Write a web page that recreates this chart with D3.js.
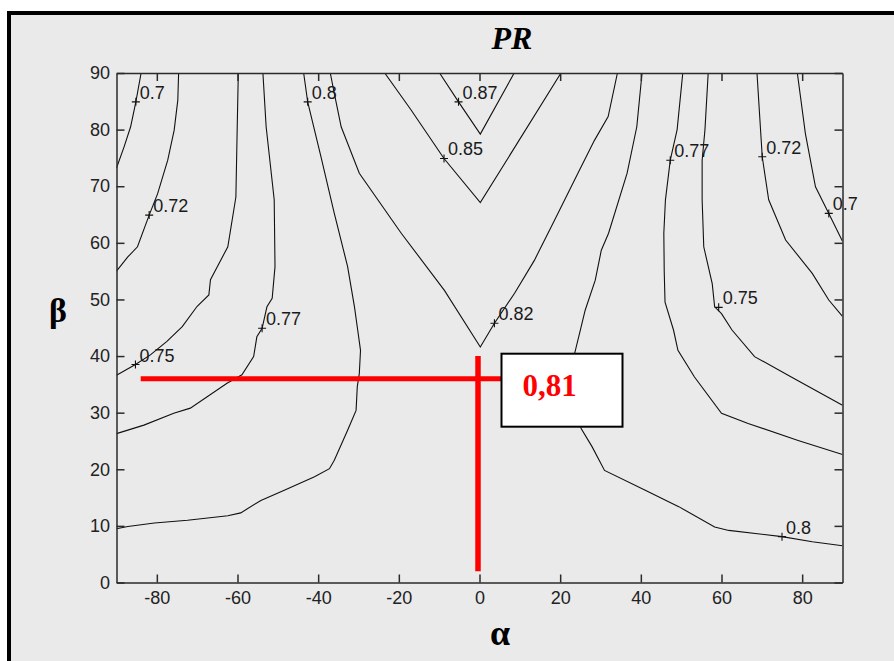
<!DOCTYPE html>
<html><head><meta charset="utf-8">
<script src="https://cdn.jsdelivr.net/npm/d3@7"></script>
<style>html,body{margin:0;padding:0;background:#fff;} svg{display:block}</style>
</head><body><svg id="c" width="894" height="661"></svg>
<script>
// ---------- data ----------
const chartTitle = "PR";
const xLabel = "α", yLabel = "β";
const xTicks = [-80, -60, -40, -20, 0, 20, 40, 60, 80];
const yTicks = [0, 10, 20, 30, 40, 50, 60, 70, 80, 90];
const xDomain = [-90, 90], yDomain = [0, 90];

// contour lines, points as [alpha, beta]
const c070L = [[-83.9,90],[-85.2,84.9],[-86.5,80.5],[-88.1,77],[-90,73.2]];
const c072L = [[-74.6,90],[-74.8,85.2],[-75.7,79.9],[-77.3,74.6],[-79.8,68.7],[-81.9,64.9],[-84.8,59.3],[-87.2,57.5],[-90,55]];
const c075L = [[-59.8,90],[-60.1,79.3],[-60.4,68.1],[-62.4,59.3],[-66.7,53.5],[-67.1,50.8],[-70,48.8],[-73.7,45.2],[-77.5,42.6],[-81.6,40.2],[-85.3,38.5],[-90,36.6]];
const c077L = [[-53.7,90],[-52.9,80.5],[-50.9,67.6],[-50.7,55.8],[-51.4,50.2],[-52.7,48.7],[-53.9,44.9],[-55.2,43.4],[-56,39.9],[-58.9,36.7],[-62.6,35.2],[-71.7,30.8],[-75.8,29.9],[-83.2,27.8],[-90,26.3]];
const c080L = [[-43.6,90],[-42.6,84.9],[-39.3,75.2],[-36,65.2],[-32.7,55.8],[-31,48.7],[-30.2,44.6],[-29.5,41],[-29.8,36.9],[-30.3,34.6],[-30.6,30.4],[-32.7,26.9],[-36,21.6],[-37.2,20.1],[-40.9,18.7],[-48.4,16.3],[-54.2,14.5],[-59.2,12.3],[-62.4,11.8],[-72.4,11],[-80.6,10.5],[-87.2,9.9],[-90,9.5]];
const c082 = [[-37,90],[-36,86.4],[-34.3,80.5],[-29.8,72.3],[-19.4,61.7],[-8.7,51.6],[0.2,41.6],[3.7,45.8],[8.7,51.1],[13.6,56.9],[18.6,64],[24.4,72.3],[28.5,78.1],[31.9,82.3],[34.2,90]];
const c085 = [[-23.5,90],[-17,83.5],[-8.8,74.9],[0.2,67.1],[20.2,90]];
const c087 = [[-9.9,90],[-5.2,84.9],[0.2,79.2],[8.6,90]];
const c080R = [[40.3,90],[39,80.5],[36.6,72.3],[32,61.7],[30.2,58.7],[28.7,53.4],[26.2,48.1],[25,44.6],[23.6,40.5],[23.3,34],[25.2,27.2],[27.9,24],[31,19.8],[41.1,16.3],[49.4,13.4],[58.3,9.8],[61.8,9.2],[75,8.1],[82.5,7.2],[90,6.5]];
const c077R = [[50.4,90],[49,80],[47.3,74.6],[46.1,67.6],[45.7,61.7],[45.8,55],[46,49.5],[48.1,44.6],[49.2,41],[53.3,36.3],[60,29.9],[66.6,28.1],[79,25.1],[90,22.6]];
const c075R = [[56.7,90],[55.9,80],[55.2,74.6],[55.2,67.6],[55.6,59.3],[57.7,52.8],[58.3,48.7],[60,47.5],[62.6,44.6],[68.2,39.9],[77.3,36.3],[90,31.3]];
const c072R = [[68.8,90],[69.5,82],[70.1,75.2],[71.7,67.6],[75.9,60.5],[82.5,54.6],[86.6,49.9],[90,47]];
const c070R = [[78.8,90],[80.8,79.3],[83.3,69.9],[86.6,65.2],[90,60.3]];

// contour labels: text and "+" position [alpha, beta]
const labelTexts = ["0.7","0.72","0.75","0.77","0.8","0.87","0.85","0.82","0.77","0.72","0.7","0.75","0.8"];
const labelPos = [[-85.2,84.9],[-81.9,64.9],[-85.3,38.5],[-53.9,44.9],[-42.6,84.9],[-5.2,84.9],[-8.8,74.9],[3.7,45.8],[47.3,74.6],[70.1,75.2],[86.6,65.2],[59.3,48.6],[75,8.1]];

// red read-off annotation
const readAlpha = 0, readBeta = 36, readValue = "0,81";
const readHStart = -84, readVStart = 2, readVEnd = 40;

// ---------- drawing ----------
const contours = [c070L, c072L, c075L, c077L, c080L, c082, c085, c087, c080R, c077R, c075R, c072R, c070R];
const svg = d3.select("#c");
const x = d3.scaleLinear().domain(xDomain).range([116.5, 842.5]);
const y = d3.scaleLinear().domain(yDomain).range([582.5, 73]);

svg.append("rect").attr("width", 894).attr("height", 661).attr("fill", "#fff");
svg.append("rect").attr("x", 7).attr("y", 11).attr("width", 887).attr("height", 650).attr("fill", "#eaeaea");
svg.append("rect").attr("x", 7).attr("y", 11).attr("width", 887).attr("height", 4).attr("fill", "#000");
svg.append("rect").attr("x", 7).attr("y", 11).attr("width", 4).attr("height", 650).attr("fill", "#000");

svg.append("defs").append("clipPath").attr("id", "pa")
  .append("rect").attr("x", x(-90)).attr("y", y(90)).attr("width", x(90) - x(-90)).attr("height", y(0) - y(90));

const line = d3.line().x(d => x(d[0])).y(d => y(d[1]));
const gC = svg.append("g").attr("clip-path", "url(#pa)");
gC.selectAll("path.ct").data(contours).join("path").attr("class", "ct")
  .attr("d", line).attr("fill", "none").attr("stroke", "#111").attr("stroke-width", 1.1);

// labels
const gL = svg.append("g");
labelPos.forEach((p, i) => {
  const px = x(p[0]), py = y(p[1]);
  gL.append("path").attr("d", `M${px-4},${py}H${px+4}M${px},${py-4}V${py+4}`)
    .attr("stroke", "#111").attr("stroke-width", 1.1);
  gL.append("text").attr("x", px + 4).attr("y", py - 3).text(labelTexts[i])
    .attr("font-family", "Liberation Sans, Arial, sans-serif").attr("font-size", 18).attr("fill", "#1a1a1a");
});

// axes
const axStyle = g => {
  g.select(".domain").attr("stroke", "#2a2a2a").attr("stroke-width", 1.5);
  g.selectAll(".tick line").attr("stroke", "#2a2a2a").attr("stroke-width", 1.5);
  g.selectAll("text").attr("font-family", "Liberation Sans, Arial, sans-serif").attr("font-size", 18).attr("fill", "#222");
};
svg.append("g").attr("transform", `translate(0,${y(0)})`)
  .call(d3.axisBottom(x).tickValues(xTicks).tickFormat(d => String(d)).tickSize(-8).tickSizeOuter(0).tickPadding(9)).call(axStyle);
svg.append("g").attr("transform", `translate(0,${y(90)})`)
  .call(d3.axisTop(x).tickValues(xTicks).tickFormat("").tickSize(-8).tickSizeOuter(0)).call(axStyle);
svg.append("g").attr("transform", `translate(${x(-90)},0)`)
  .call(d3.axisLeft(y).tickValues(yTicks).tickFormat(d => String(d)).tickSize(-8).tickSizeOuter(0).tickPadding(6.5)).call(axStyle);
svg.append("g").attr("transform", `translate(${x(90)},0)`)
  .call(d3.axisRight(y).tickValues(yTicks).tickFormat("").tickSize(-8).tickSizeOuter(0)).call(axStyle);

// titles
svg.append("text").attr("x", 512).attr("y", 49).attr("text-anchor", "middle")
  .attr("font-family", "Liberation Serif, Times New Roman, serif").attr("font-weight", "bold").attr("font-style", "italic")
  .attr("font-size", 32).attr("fill", "#000").text(chartTitle);
svg.append("text").attr("x", 500).attr("y", 645).attr("text-anchor", "middle")
  .attr("font-family", "Liberation Serif, Times New Roman, serif").attr("font-weight", "bold")
  .attr("font-size", 36).attr("fill", "#000").text(xLabel);
svg.append("text").attr("x", 58).attr("y", 322).attr("text-anchor", "middle")
  .attr("font-family", "Liberation Serif, Times New Roman, serif").attr("font-weight", "bold")
  .attr("font-size", 34).attr("fill", "#000").text(yLabel);

// red annotation
const ax0 = x(readAlpha), by0 = y(readBeta);
const boxL = ax0 + 22;
svg.append("line").attr("x1", x(readHStart)).attr("x2", boxL).attr("y1", by0).attr("y2", by0)
  .attr("stroke", "#ff0000").attr("stroke-width", 5);
svg.append("line").attr("x1", ax0 - 1.5).attr("x2", ax0 - 1.5).attr("y1", y(readVStart)).attr("y2", y(readVEnd))
  .attr("stroke", "#ff0000").attr("stroke-width", 5.5);
svg.append("rect").attr("x", boxL).attr("y", by0 - 25).attr("width", 121).attr("height", 73)
  .attr("fill", "#fff").attr("stroke", "#000").attr("stroke-width", 2);
svg.append("text").attr("x", boxL + 21).attr("y", by0 + 17)
  .attr("font-family", "Liberation Serif, Times New Roman, serif").attr("font-weight", "bold")
  .attr("font-size", 31).attr("fill", "#ff0000").text(readValue);
</script></body></html>
